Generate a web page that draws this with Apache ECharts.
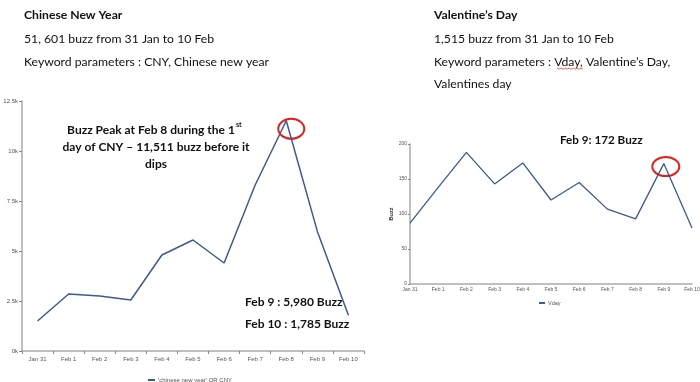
<!DOCTYPE html>
<html><head><meta charset="utf-8">
<script src="https://cdn.jsdelivr.net/npm/echarts@6/dist/echarts.min.js"></script>
<style>html,body{margin:0;padding:0;background:#fff}#c{width:700px;height:382px}</style>
</head><body><div id="c"></div>
<script>
const categories = ['Jan 31','Feb 1','Feb 2','Feb 3','Feb 4','Feb 5','Feb 6','Feb 7','Feb 8','Feb 9','Feb 10'];
const cnyValues = [1500, 2850, 2750, 2550, 4800, 5550, 4400, 8300, 11511, 5980, 1785];
const vdayValues = [87, 138, 188, 143, 173, 120, 145, 107, 93, 172, 80];
const cnyTicks = [0, 2500, 5000, 7500, 10000, 12500];
const vdayTicks = [0, 50, 100, 150, 200];
const cnyName = "'chinese new year' OR CNY";
const vdayName = 'Vday';

const F = 'Lato, "Open Sans", sans-serif';
const SF = '"Liberation Sans", Arial, sans-serif';
const lineColor = '#3d5a8e';
const chart = echarts.init(document.getElementById('c'));
const axisLabel = {fontSize: 6, color: '#555', fontFamily: SF};
const axisLine = {show: true, lineStyle: {color: '#aaa', width: 1.5}};

function txt(x, y, s, size, bold, align) {
  return {type: 'text', x: x, y: y, style: {text: s, font: (bold ? 'bold ' : '') + size + 'px ' + F, fill: '#111', align: align || 'left', verticalAlign: 'middle'}};
}

chart.setOption({
  animation: false,
  grid: [
    {left: 22, top: 101, width: 342, height: 250, containLabel: false, outerBoundsMode: 'none'},
    {left: 410, top: 144, width: 282, height: 140, containLabel: false, outerBoundsMode: 'none'}
  ],
  legend: [
    {data: [cnyName], left: 143, top: 372, icon: 'rect', itemWidth: 7, itemHeight: 2, itemGap: 4, textStyle: {fontSize: 6, color: '#555', fontFamily: SF, padding: [0, 0, 0, -2]}},
    {data: [vdayName], left: 534, top: 295, icon: 'rect', itemWidth: 6, itemHeight: 2, textStyle: {fontSize: 5.5, color: '#555', fontFamily: SF, padding: [0, 0, 0, -2]}}
  ],
  xAxis: [
    {type: 'category', gridIndex: 0, data: categories, boundaryGap: true, axisLine, axisTick: {show: true, lineStyle: {color: '#888'}, length: 3}, axisLabel: Object.assign({}, axisLabel, {margin: 5, interval: 0})},
    {type: 'category', gridIndex: 1, data: categories, boundaryGap: false, axisLine, axisTick: {show: false}, axisLabel: Object.assign({}, axisLabel, {fontSize: 5, margin: 3, interval: 0})}
  ],
  yAxis: [
    {type: 'value', gridIndex: 0, min: cnyTicks[0], max: cnyTicks[cnyTicks.length - 1], interval: 2500,
     axisLine, axisTick: {show: true, length: 3, lineStyle: {color: '#888'}}, splitLine: {show: false},
     axisLabel: Object.assign({}, axisLabel, {formatter: v => (v / 1000) + 'k', margin: 4}),
     name: 'Buzz', nameLocation: 'middle', nameGap: 18, nameTextStyle: {fontSize: 6, color: '#3d5a8e', fontFamily: SF}},
    {type: 'value', gridIndex: 1, min: vdayTicks[0], max: vdayTicks[vdayTicks.length - 1], interval: 50,
     axisLine, axisTick: {show: true, length: 2, lineStyle: {color: '#888'}}, splitLine: {show: false},
     axisLabel: Object.assign({}, axisLabel, {fontSize: 5, margin: 3}),
     name: 'Buzz', nameLocation: 'middle', nameGap: 15, nameTextStyle: {fontSize: 5.5, color: '#333', fontFamily: SF, fontWeight: 'bold'}}
  ],
  series: [
    {name: cnyName, type: 'line', xAxisIndex: 0, yAxisIndex: 0, data: cnyValues, symbol: 'none', lineStyle: {color: lineColor, width: 1.5}, itemStyle: {color: lineColor}},
    {name: vdayName, type: 'line', xAxisIndex: 1, yAxisIndex: 1, data: vdayValues, symbol: 'none', lineStyle: {color: lineColor, width: 1.3}, itemStyle: {color: lineColor}}
  ]
});

const p1 = chart.convertToPixel({xAxisIndex: 0, yAxisIndex: 0}, [8, cnyValues[8]]);
const p2 = chart.convertToPixel({xAxisIndex: 1, yAxisIndex: 1}, [9, vdayValues[9]]);

const zig = [];
for (let i = 0; i <= 13; i++) zig.push([557 + i * 2, 68 + (i % 2 ? 1.2 : 0)]);

chart.setOption({
  graphic: [
    txt(24, 15, 'Chinese New Year', 12.2, true),
    txt(24, 39, '51, 601 buzz from 31 Jan to 10 Feb', 12.2, false),
    txt(24, 62, 'Keyword parameters : CNY, Chinese new year', 12.2, false),
    txt(434, 15, 'Valentine\u2019s Day', 12.2, true),
    txt(434, 39, '1,515 buzz from 31 Jan to 10 Feb', 12.2, false),
    txt(434, 62, 'Keyword parameters : Vday, Valentine\u2019s Day,', 12.2, false),
    txt(434, 84, 'Valentines day', 12.2, false),
    {type: 'polyline', shape: {points: zig}, style: {stroke: '#e04040', lineWidth: 0.8, fill: 'none'}},
    txt(151, 130, 'Buzz Peak at Feb 8 during the 1', 12, true, 'center'),
    {type: 'text', x: 236, y: 125, style: {text: 'st', font: 'bold 7px ' + F, fill: '#111', align: 'left', verticalAlign: 'middle'}},
    txt(156, 147, 'day of CNY \u2013 11,511 buzz before it', 12, true, 'center'),
    txt(156, 164, 'dips', 12, true, 'center'),
    txt(245, 302, 'Feb 9 : 5,980 Buzz', 12, true),
    txt(245, 324, 'Feb 10 : 1,785 Buzz', 12, true),
    txt(560, 140, 'Feb 9: 172 Buzz', 11.7, true),
    {type: 'ellipse', shape: {cx: p1[0] + 5, cy: p1[1] + 8, rx: 13, ry: 10}, style: {fill: 'none', stroke: '#e0201c', lineWidth: 2}},
    {type: 'ellipse', shape: {cx: p2[0] + 2, cy: p2[1] + 3, rx: 13.5, ry: 9.5}, style: {fill: 'none', stroke: '#e0201c', lineWidth: 2}}
  ]
});
</script></body></html>
